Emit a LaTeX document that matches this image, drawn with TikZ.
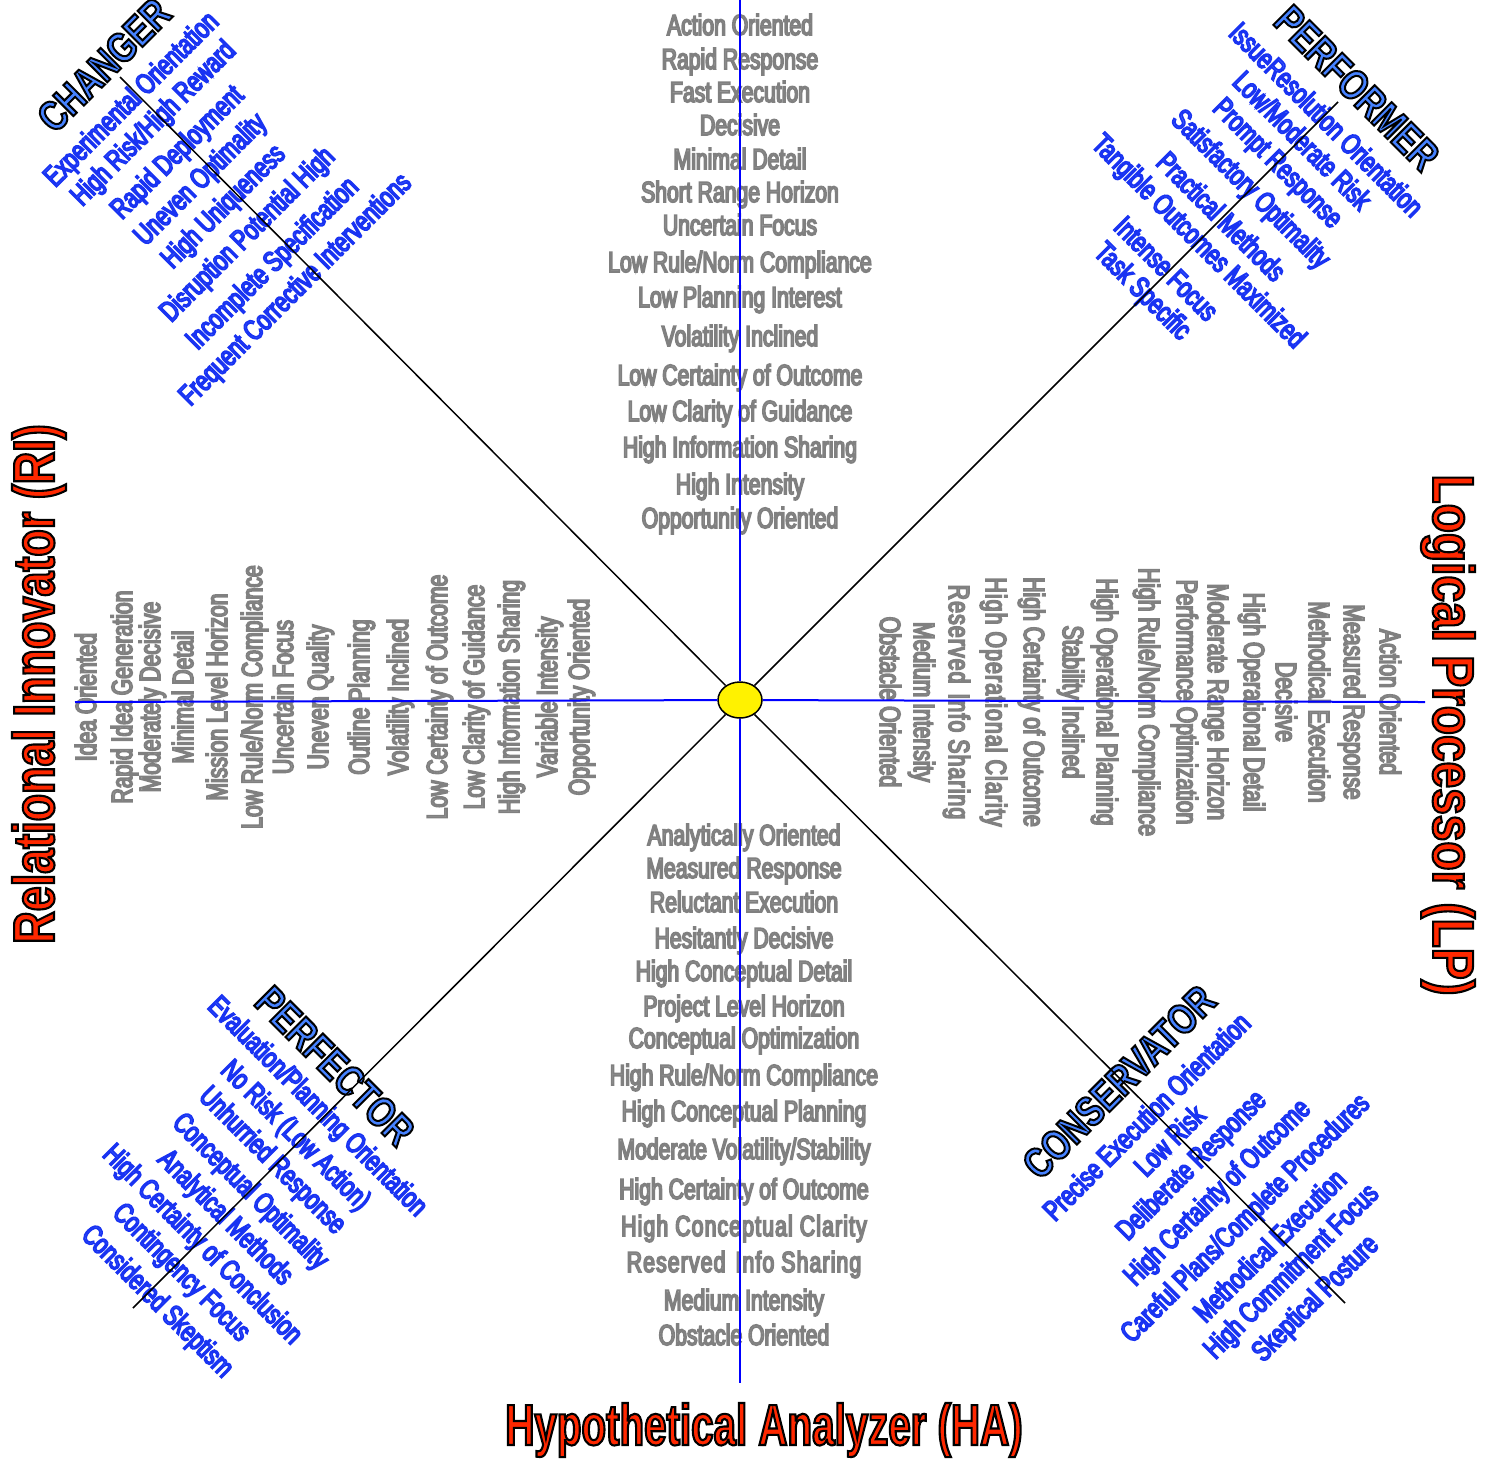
\documentclass[tikz,border=0pt]{standalone}
\usepackage{fontspec}
\usetikzlibrary{shapes.geometric}
\newfontfamily\listfont[FakeStretch=0.73]{Liberation Sans}
\newfontfamily\cornerfont[FakeStretch=0.79]{Liberation Sans}
\newfontfamily\hafont[FakeStretch=0.695]{Liberation Sans}
\newfontfamily\rifont[FakeStretch=0.775]{Liberation Sans}
\newfontfamily\lpfont[FakeStretch=0.825]{Liberation Sans}
\definecolor{txtgray}{RGB}{158,158,158}
\definecolor{listblue}{RGB}{70,105,255}
\definecolor{cornerblue}{RGB}{70,130,255}
\definecolor{titlered}{RGB}{255,40,0}
\definecolor{axisblue}{RGB}{0,0,255}
% outlined text: fill colour, stroke width, stroke rgb, text
\newcommand\otx[4]{{\color{#1}\special{pdf:literal direct 2 Tr #2 w #3 RG}#4}}
\newcommand\gtx[1]{\otx{txtgray}{0.8}{0.5 0.5 0.5}{#1}}
\newcommand\btx[1]{\otx{listblue}{0.8}{0.1 0.2 0.95}{#1}}
\newcommand\ctx[1]{\otx{cornerblue}{1.0}{0 0 0}{#1}}
\newcommand\rtx[1]{\otx{titlered}{1.05}{0 0 0}{#1}}
\newcommand\spaced[1]{{\addfontfeature{LetterSpace=4}#1}}
\tikzset{
  lst/.style={inner sep=0pt, font=\listfont\fontsize{14.5}{17}\selectfont,
    text height=10.9pt, text depth=2.9pt},
  cornerttl/.style={inner sep=0pt, font=\cornerfont\bfseries\fontsize{21}{24}\selectfont},
  bigttl/.style={inner sep=0pt},
  bline/.style={draw=axisblue, line width=1pt},
  kline/.style={draw=black, line width=0.75pt},
}
\begin{document}
\begin{tikzpicture}[x=0.5pt,y=-0.5pt]
\fill[white] (0,0) rectangle (1486,1458);
\useasboundingbox (0,0) rectangle (1486,1458);

% top list
\foreach \yy/\txt [count=\i] in {27/{Action Oriented},61/{Rapid Response},94/{Fast Execution},
  127/{Decisive},161/{Minimal Detail},194/{Short Range Horizon},227/{Uncertain Focus},
  264/{Low Rule/Norm Compliance},299/{Low Planning Interest},338/{Volatility Inclined},
  377/{Low Certainty of Outcome},413/{Low Clarity of Guidance},449/{High Information Sharing},
  486/{High Intensity},520/{Opportunity Oriented}}
  {\node[lst] (top\i) at (740,\yy) {\gtx{\txt}};}

% bottom list
\foreach \yy/\txt [count=\i] in {837/{Analytically Oriented},870/{Measured Response},
  904/{Reluctant Execution},940/{Hesitantly Decisive},973/{High Conceptual Detail},
  1008/{Project Level Horizon},1040/{Conceptual Optimization},1077/{High Rule/Norm Compliance},
  1113/{High Conceptual Planning},1151/{Moderate Volatility/Stability},
  1191/{High Certainty of Outcome},1228/{\spaced{High Conceptual Clarity}},
  1264/{\spaced{Reserved\hspace{1.5pt} Info Sharing}},1302/{Medium Intensity},1337/{Obstacle Oriented}}
  {\node[lst] (bot\i) at (744,\yy) {\gtx{\txt}};}

% left list
\foreach \xx/\txt [count=\i] in {88/{Idea Oriented},124/{Rapid Idea Generation},
  152/{Moderately Decisive},185/{Minimal Detail},219/{Mission Level Horizon},
  254/{Low Rule/Norm Compliance},285/{Uncertain Focus},320/{Uneven Quality},
  361/{Outline Planning},400/{Volatility Inclined},439/{Low Certainty of Outcome},
  476/{Low Clarity of Guidance},511/{High Information Sharing},549/{Variable Intensity},
  581/{Opportunity Oriented}}
  {\node[lst,rotate=90] (lft\i) at (\xx,697) {\gtx{\txt}};}

% right list
\foreach \xx/\txt [count=\i] in {888/{Obstacle Oriented},922/{Medium Intensity},
  957/{\spaced{Reserved\hspace{1.5pt} Info Sharing}},994/{\spaced{High Operational Clarity}},1032/{High Certainty of Outcome},
  1071/{Stability Inclined},1105/{High Operational Planning},1147/{High Rule/Norm Compliance},
  1185/{Performance Optimization},1216/{Moderate Range Horizon},1252/{High Operational Detail},
  1284/{Decisive},1317/{Methodical Execution},1352/{Measured Response},1388/{Action Oriented}}
  {\node[lst,rotate=-90] (rgt\i) at (\xx,702) {\gtx{\txt}};}

% CHANGER list
\foreach \xx/\yy/\txt [count=\i] in {132/100/{Experimental Orientation},154/124/{High Risk/High Reward},
  178/153/{Rapid Deployment},201/180/{Uneven Optimality},224/207/{High Uniqueness},
  248/235/{Disruption Potential High},273/264/{Incomplete Specification},
  296/290/{Frequent Corrective Interventions}}
  {\node[lst,rotate=45] (chg\i) at (\xx,\yy) {\btx{\txt}};}

% PERFORMER list
\foreach \xx/\yy/\txt [count=\i] in {1325/121/{IssueResolution Orientation},1301/142/{Low/Moderate Risk},
  1277/164/{Prompt Response},1250/190/{Satisfactory Optimality},1220/218/{Practical Methods},
  1198/242/{Tangible Outcomes Maximized},1165/270/{Intense Focus},1142/292/{Task Specific}}
  {\node[lst,rotate=-45] (pfm\i) at (\xx,\yy) {\btx{\txt}};}

% PERFECTOR list
\foreach \xx/\yy/\txt [count=\i] in {317/1107/{Evaluation/Planning Orientation},295/1136/{No Risk (Low Action)},
  272/1161/{Unhurried Response},250/1192/{Conceptual Optimality},225/1218/{Analytical Methods},
  202/1245/{High Certainty of Conclusion},181/1273/{Contingency Focus},157/1302/{Considered Skeptism}}
  {\node[lst,rotate=-45] (pfc\i) at (\xx,\yy) {\btx{\txt}};}

% CONSERVATOR list
\foreach \xx/\yy/\txt [count=\i] in {1148/1118/{Precise Execution Orientation},1171/1142/{Low Risk},
  1192/1166/{Deliberate Response},1218/1193/{High Certainty of Outcome},
  1246/1219/{Careful Plans/Complete Procedures},1271/1247/{Methodical Execution},
  1292/1272/{High Commitment Focus},1316/1299/{Skeptical Posture}}
  {\node[lst,rotate=45] (csv\i) at (\xx,\yy) {\btx{\txt}};}

% corner titles
\node[cornerttl,rotate=45] (changer) at (104,65) {\ctx{CHANGER}};
\node[cornerttl,rotate=-45] (performer) at (1357,88) {\ctx{PERFORMER}};
\node[cornerttl,rotate=-45] (perfector) at (335,1066) {\ctx{PERFECTOR}};
\node[cornerttl,rotate=45] (conservator) at (1119,1082) {\ctx{CONSERVATOR}};

% axis titles
\node[bigttl,font=\hafont\bfseries\fontsize{29}{34}\selectfont] (ha) at (764,1430) {\rtx{Hypothetical Analyzer (HA)}};
\node[bigttl,rotate=90,font=\rifont\bfseries\fontsize{29}{34}\selectfont] (ri) at (39,684) {\rtx{Relational Innovator (RI)}};
\node[bigttl,rotate=-90,font=\lpfont\bfseries\fontsize{29}{34}\selectfont] (lp) at (1448,735) {\rtx{Logical Processor (LP)}};

% axes
\coordinate (axL) at (75,702);
\coordinate (axR) at (1425,702);
\coordinate (axT) at (740,0);
\coordinate (axB) at (740,1383);
\coordinate (dTL) at (120,77);
\coordinate (dTR) at (1338,102);
\coordinate (dBL) at (133,1308);
\coordinate (dBR) at (1345,1303);
\node[ellipse, draw=black, fill=yellow, line width=0.75pt, minimum width=22pt,
  minimum height=18pt, inner sep=0pt] (ctr) at (740,700) {};
\draw[bline] (axL) -- (ctr);
\draw[bline] (ctr) -- (axR);
\draw[bline] (axT) -- (ctr);
\draw[bline] (ctr) -- (axB);
\draw[kline] (ctr) -- (dTL);
\draw[kline] (ctr) -- (dTR);
\draw[kline] (ctr) -- (dBL);
\draw[kline] (ctr) -- (dBR);
\end{tikzpicture}
\end{document}
